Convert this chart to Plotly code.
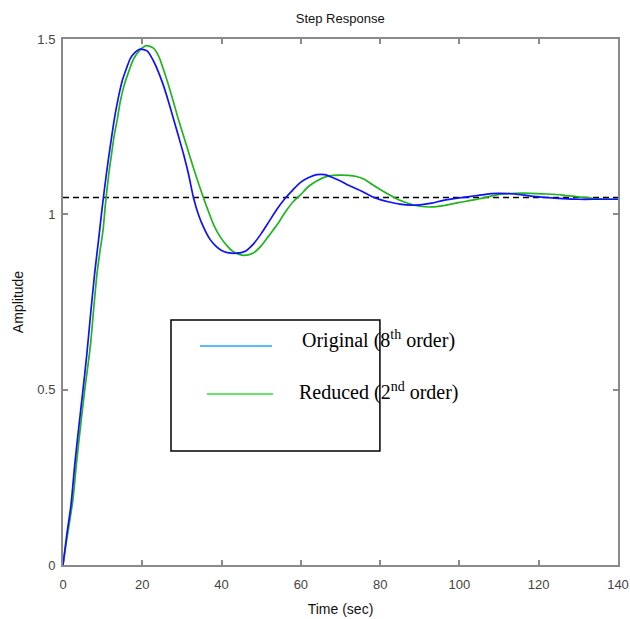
import plotly.graph_objects as go

# Original (8th order) step response
t_orig = [0, 1, 2, 3, 4, 5, 6, 7, 8, 9, 10, 11, 12, 13, 14, 15, 16, 17, 18, 19.5,
          21.2, 22.8, 24.1, 25.2, 26.6, 27.9, 29.1, 30.4, 31.7, 32.9, 34.2, 35.5, 37,
          38.5, 40, 41.5, 43.5, 46, 48, 50, 52, 54, 56, 58, 60, 62, 64, 66, 68, 70,
          72, 75, 78, 80, 82, 85, 88, 90, 93, 96, 100, 104, 108, 110, 114, 118, 122, 126,
          130, 135, 140]
y_orig = [0, 0.09, 0.17, 0.29, 0.395, 0.495, 0.6, 0.72, 0.833, 0.93, 1.03, 1.12, 1.2,
          1.275, 1.335, 1.383, 1.416, 1.445, 1.46, 1.471, 1.466, 1.438, 1.405, 1.372,
          1.322, 1.271, 1.224, 1.172, 1.113, 1.048, 0.998, 0.962, 0.93, 0.91, 0.897, 0.891,
          0.889, 0.895, 0.915, 0.945, 0.98, 1.015, 1.045, 1.07, 1.092, 1.105, 1.113, 1.113,
          1.105, 1.095, 1.083, 1.068, 1.05, 1.042, 1.036, 1.029, 1.026, 1.027, 1.032, 1.04,
          1.047, 1.053, 1.059, 1.06, 1.058, 1.052, 1.048, 1.045, 1.043, 1.043, 1.043]

# Reduced (2nd order) step response
t_red = [0, 0.8, 2.5, 3.4, 4.6, 5.5, 6.9, 7.8, 8.6, 9.4, 10.1, 10.8, 11.6, 12.3, 12.9, 13.7,
         14.4, 15.4, 16.8, 17.8, 19.3, 21.0, 22.8, 24.1, 25.2, 26.6, 27.9, 29.1, 30.4, 31.7,
         33.0, 34.2, 35.4, 36.8, 38.0, 39.7, 41.4, 43.0, 45.5, 48, 50, 52, 54, 56, 58, 60, 62, 64,
         66, 68, 70, 72, 74, 76, 78, 80, 82, 85, 88, 90, 93, 96, 100, 104, 108, 110, 114,
         118, 122, 126, 130, 135, 140]
y_red = [0, 0.062, 0.186, 0.29, 0.414, 0.5, 0.624, 0.738, 0.833, 0.9, 0.955, 1.04, 1.12,
         1.176, 1.224, 1.271, 1.319, 1.367, 1.414, 1.443, 1.467, 1.481, 1.474, 1.452, 1.418,
         1.369, 1.319, 1.271, 1.224, 1.176, 1.129, 1.088, 1.048, 1.005, 0.97, 0.935, 0.910, 0.893,
         0.883, 0.89, 0.91, 0.94, 0.97, 1.005, 1.035, 1.057, 1.08, 1.095, 1.106, 1.111, 1.112,
         1.111, 1.108, 1.1, 1.085, 1.071, 1.058, 1.04, 1.028, 1.023, 1.021, 1.025, 1.034,
         1.042, 1.052, 1.057, 1.06, 1.06, 1.058, 1.055, 1.05, 1.044, 1.043]

# Steady-state value (dashed)
t_final = [0, 140]
y_final = [1.048, 1.048]

x_ticks = [0, 20, 40, 60, 80, 100, 120, 140]
y_ticks = [0, 0.5, 1, 1.5]
y_tick_labels = ["0", "0.5", "1", "1.5"]

legend_labels = ["Original (8<sup>th</sup> order)", "Reduced (2<sup>nd</sup> order)"]

fig = go.Figure()
fig.add_trace(go.Scatter(x=t_final, y=y_final, mode="lines",
                         line=dict(color="black", width=1.5, dash="6px,4px"),
                         showlegend=False, hoverinfo="skip"))
fig.add_trace(go.Scatter(x=t_red, y=y_red, mode="lines", name="Reduced",
                         line=dict(color="#1fb51f", width=1.7, shape="spline", smoothing=0.7),
                         showlegend=False))
fig.add_trace(go.Scatter(x=t_orig, y=y_orig, mode="lines", name="Original",
                         line=dict(color="#1010ff", width=1.7, shape="spline", smoothing=0.7),
                         showlegend=False))

axis_common = dict(showline=True, linecolor="#8a8a8a", linewidth=2, mirror="ticks",
                   ticks="inside", ticklen=5, tickcolor="#8a8a8a", tickwidth=1.5,
                   showgrid=False, zeroline=False, automargin=False,
                   ticklabeloverflow="allow",
                   tickfont=dict(family="Liberation Sans, Arial", size=13, color="#444"))

fig.update_xaxes(range=[0, 140], tickvals=x_ticks, ticklabelstandoff=6,
                 title=dict(text="Time (sec)", standoff=14,
                            font=dict(family="Liberation Sans, Arial", size=14, color="#111")),
                 **axis_common)
fig.update_yaxes(range=[0, 1.5], tickvals=y_ticks, ticktext=y_tick_labels, ticklabelstandoff=3,
                 title=dict(text="Amplitude", standoff=10,
                            font=dict(family="Liberation Sans, Arial", size=14, color="#111")),
                 **axis_common)

# Legend box drawn as in the reference
fig.add_shape(type="rect", xref="paper", yref="paper", x0=0.1946, x1=0.571, y0=0.2167, y1=0.4658,
              line=dict(color="black", width=1.5), fillcolor="rgba(0,0,0,0)")
fig.add_shape(type="line", xref="paper", yref="paper", x0=0.2468, x1=0.3766, y0=0.4163, y1=0.4163,
              line=dict(color="#22aaee", width=1.5))
fig.add_shape(type="line", xref="paper", yref="paper", x0=0.2595, x1=0.3784, y0=0.3251, y1=0.3251,
              line=dict(color="#33dd33", width=1.5))
fig.add_annotation(xref="paper", yref="paper", x=0.427, y=0.4278, xanchor="left", yanchor="middle",
                   text=legend_labels[0], showarrow=False,
                   font=dict(family="Liberation Serif, Times New Roman", size=20, color="black"))
fig.add_annotation(xref="paper", yref="paper", x=0.4216, y=0.3289, xanchor="left", yanchor="middle",
                   text=legend_labels[1], showarrow=False,
                   font=dict(family="Liberation Serif, Times New Roman", size=20, color="black"))

fig.update_layout(
    width=630, height=619,
    margin=dict(l=63, r=12, t=39, b=54, autoexpand=False),
    paper_bgcolor="white", plot_bgcolor="white",
    title=dict(text="Step Response", x=0.54, xanchor="center", y=0.971, yanchor="middle",
               font=dict(family="Liberation Sans, Arial", size=13, color="#111")),
    showlegend=False,
)

fig.write_html("out.html", config={"displayModeBar": False},
               post_script="document.body.style.margin='0';document.body.style.overflow='hidden';")
